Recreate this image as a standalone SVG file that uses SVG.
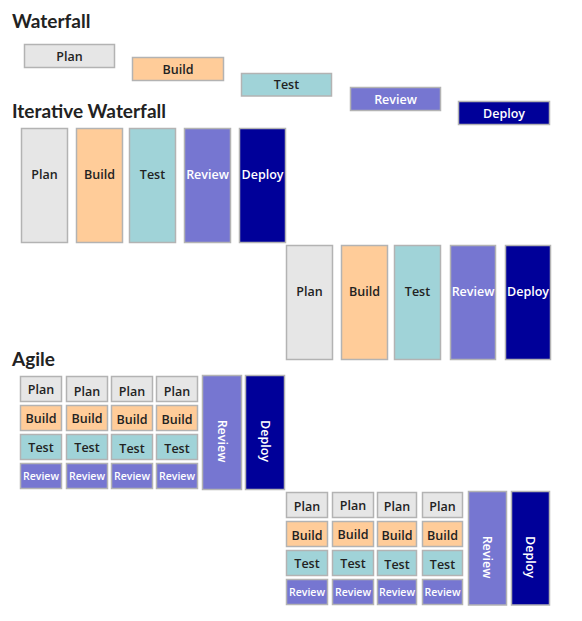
<svg xmlns="http://www.w3.org/2000/svg" width="582" height="621" viewBox="0 0 582 621">
<style>
rect{stroke:#B3B3B3;stroke-width:1.5}
.plan{fill:#E6E6E6}.build{fill:#FFCC99}.test{fill:#A0D3D8}.review{fill:#7676D1}.deploy{fill:#000099}
text{font-family:"Open Sans",Lato,"Liberation Sans",sans-serif;font-size:12.5px;font-weight:600;text-anchor:middle;fill:#222}
text.w{fill:#fff}
text.s{font-size:10.5px}
text.title{font-family:Lato,"Open Sans",sans-serif;font-size:19px;font-weight:bold;text-anchor:start;fill:#222}
</style>
<rect x="0" y="0" width="582" height="621" style="fill:#fff;stroke:none"/>

<text class="title" x="12" y="28">Waterfall</text>
<text class="title" x="12" y="118">Iterative Waterfall</text>
<text class="title" x="12" y="366">Agile</text>

<g id="wf-plan"><rect class="plan" x="24.5" y="44.5" width="90" height="23"/><text x="69.5" y="60.5">Plan</text></g>
<g id="wf-build"><rect class="build" x="132.5" y="57.5" width="91" height="23"/><text x="178" y="73.5">Build</text></g>
<g id="wf-test"><rect class="test" x="241.5" y="73.5" width="90" height="22.5"/><text x="286.5" y="89">Test</text></g>
<g id="wf-review"><rect class="review" x="350.5" y="87.5" width="90" height="23"/><text class="w" x="395.5" y="103.5">Review</text></g>
<g id="wf-deploy"><rect class="deploy" x="458.5" y="101.5" width="91" height="23"/><text class="w" x="504" y="117.5">Deploy</text></g>

<g id="iw1-plan"><rect class="plan" x="21.5" y="128.5" width="46" height="114"/><text x="44.5" y="179">Plan</text></g>
<g id="iw1-build"><rect class="build" x="76.5" y="128.5" width="46" height="114"/><text x="99.5" y="179">Build</text></g>
<g id="iw1-test"><rect class="test" x="129.5" y="128.5" width="46" height="114"/><text x="152.5" y="179">Test</text></g>
<g id="iw1-review"><rect class="review" x="184.5" y="128.5" width="46" height="114"/><text class="w" x="207.5" y="179">Review</text></g>
<g id="iw1-deploy"><rect class="deploy" x="239.5" y="128.5" width="46" height="114"/><text class="w" x="262.5" y="179">Deploy</text></g>

<g id="iw2-plan"><rect class="plan" x="286.5" y="245.5" width="46" height="114"/><text x="309.5" y="296">Plan</text></g>
<g id="iw2-build"><rect class="build" x="341.5" y="245.5" width="46" height="114"/><text x="364.5" y="296">Build</text></g>
<g id="iw2-test"><rect class="test" x="394.5" y="245.5" width="46" height="114"/><text x="417.5" y="296">Test</text></g>
<g id="iw2-review"><rect class="review" x="450.5" y="245.5" width="45" height="114"/><text class="w" x="473" y="296">Review</text></g>
<g id="iw2-deploy"><rect class="deploy" x="505.5" y="245.5" width="45" height="114"/><text class="w" x="528" y="296">Deploy</text></g>

<g id="ag1-c1"><rect class="plan" x="20.5" y="376.5" width="41" height="25"/><text x="41" y="394">Plan</text>
<rect class="build" x="20.5" y="405.5" width="41" height="25"/><text x="41" y="423">Build</text>
<rect class="test" x="20.5" y="434.5" width="41" height="25"/><text x="41" y="451.5">Test</text>
<rect class="review" x="20.5" y="463.5" width="41" height="25"/><text class="w s" x="41" y="480">Review</text></g>
<g id="ag1-c2"><rect class="plan" x="66.5" y="376.5" width="41" height="25"/><text x="87" y="395.5">Plan</text>
<rect class="build" x="66.5" y="405.5" width="41" height="25"/><text x="87" y="423">Build</text>
<rect class="test" x="66.5" y="434.5" width="41" height="25"/><text x="87" y="451.5">Test</text>
<rect class="review" x="66.5" y="463.5" width="41" height="25"/><text class="w s" x="87" y="480">Review</text></g>
<g id="ag1-c3"><rect class="plan" x="111.5" y="376.5" width="41" height="25"/><text x="132" y="396">Plan</text>
<rect class="build" x="111.5" y="405.5" width="41" height="25"/><text x="132" y="424">Build</text>
<rect class="test" x="111.5" y="434.5" width="41" height="25"/><text x="132" y="452.5">Test</text>
<rect class="review" x="111.5" y="463.5" width="41" height="25"/><text class="w s" x="132" y="480">Review</text></g>
<g id="ag1-c4"><rect class="plan" x="156.5" y="376.5" width="41" height="25"/><text x="177" y="396">Plan</text>
<rect class="build" x="156.5" y="405.5" width="41" height="25"/><text x="177" y="424">Build</text>
<rect class="test" x="156.5" y="434.5" width="41" height="25"/><text x="177" y="452.5">Test</text>
<rect class="review" x="156.5" y="463.5" width="41" height="25"/><text class="w s" x="177" y="480">Review</text></g>
<g id="ag1-review"><rect class="review" x="202.5" y="375.5" width="39" height="114"/><text class="w" x="222" y="441" dominant-baseline="central" transform="rotate(90 222 441)">Review</text></g>
<g id="ag1-deploy"><rect class="deploy" x="245.5" y="375.5" width="39" height="114"/><text class="w" x="265" y="441" dominant-baseline="central" transform="rotate(90 265 441)">Deploy</text></g>

<g id="ag2-c1"><rect class="plan" x="286.5" y="492.5" width="41" height="25"/><text x="307" y="511">Plan</text>
<rect class="build" x="286.5" y="521.5" width="41" height="25"/><text x="307" y="539.5">Build</text>
<rect class="test" x="286.5" y="550.5" width="41" height="25"/><text x="307" y="567.5">Test</text>
<rect class="review" x="286.5" y="579.5" width="41" height="25"/><text class="w s" x="307" y="596">Review</text></g>
<g id="ag2-c2"><rect class="plan" x="332.5" y="492.5" width="41" height="25"/><text x="353" y="510">Plan</text>
<rect class="build" x="332.5" y="521.5" width="41" height="25"/><text x="353" y="539">Build</text>
<rect class="test" x="332.5" y="550.5" width="41" height="25"/><text x="353" y="567.5">Test</text>
<rect class="review" x="332.5" y="579.5" width="41" height="25"/><text class="w s" x="353" y="596">Review</text></g>
<g id="ag2-c3"><rect class="plan" x="377.5" y="492.5" width="39" height="25"/><text x="397" y="511">Plan</text>
<rect class="build" x="377.5" y="521.5" width="39" height="25"/><text x="397" y="540">Build</text>
<rect class="test" x="377.5" y="550.5" width="39" height="25"/><text x="397" y="568.5">Test</text>
<rect class="review" x="377.5" y="579.5" width="39" height="25"/><text class="w s" x="397" y="596">Review</text></g>
<g id="ag2-c4"><rect class="plan" x="422.5" y="492.5" width="40" height="25"/><text x="442.5" y="511">Plan</text>
<rect class="build" x="422.5" y="521.5" width="40" height="25"/><text x="442.5" y="540">Build</text>
<rect class="test" x="422.5" y="550.5" width="40" height="25"/><text x="442.5" y="568.5">Test</text>
<rect class="review" x="422.5" y="579.5" width="40" height="25"/><text class="w s" x="442.5" y="596">Review</text></g>
<g id="ag2-review"><rect class="review" x="468.5" y="491.5" width="38" height="113.5"/><text class="w" x="487.5" y="557" dominant-baseline="central" transform="rotate(90 487.5 557)">Review</text></g>
<g id="ag2-deploy"><rect class="deploy" x="511.5" y="491.5" width="38" height="113.5"/><text class="w" x="530.5" y="557" dominant-baseline="central" transform="rotate(90 530.5 557)">Deploy</text></g>
</svg>
